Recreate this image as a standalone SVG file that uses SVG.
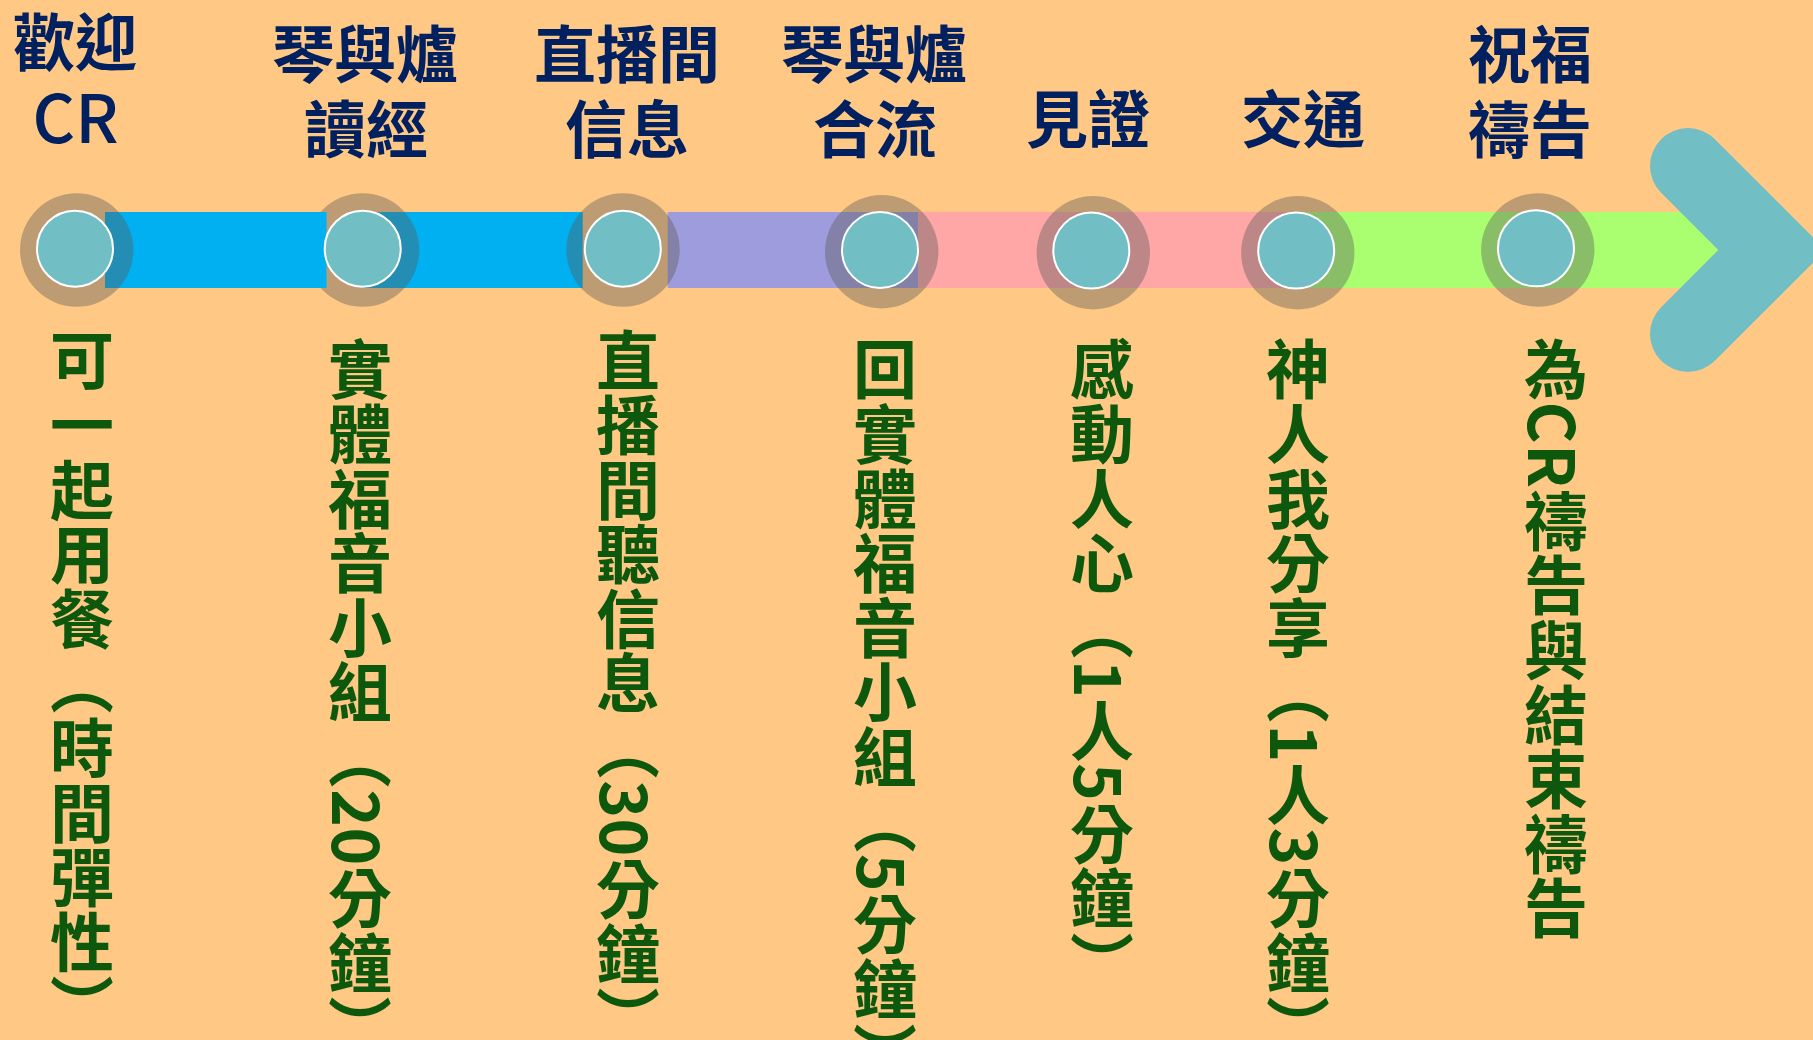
<svg xmlns="http://www.w3.org/2000/svg" width="1813" height="1040" viewBox="0 0 1813 1040">
<defs>
<style>
.ring{fill:#595959;fill-opacity:0.4}
.dot{fill:#72BEC5;stroke:#FFFFFF;stroke-width:2}
.top{font-family:"Noto Sans CJK TC","Noto Sans CJK SC",sans-serif;font-weight:700;font-size:62px;fill:#002060;text-anchor:middle}
.latin{font-weight:500;font-size:66px}
.vert{font-family:"Noto Sans CJK TC","Noto Sans CJK SC",sans-serif;font-weight:700;font-size:64px;letter-spacing:0.6px;fill:#0E580E;writing-mode:vertical-rl}
</style>
<mask id="m2" maskUnits="userSpaceOnUse" x="0" y="0" width="1813" height="1040">
<rect x="0" y="0" width="1813" height="1040" fill="#fff"/>
<rect x="0" y="212" width="326.7" height="76" fill="#000"/>
</mask>
</defs>
<rect x="0" y="0" width="1813" height="1040" fill="#FFC985"/>

<g id="connectors">
<rect x="105" y="212" width="221.7" height="76" fill="#00B0F0"/>
<rect x="362" y="212" width="220.7" height="76" fill="#00B0F0"/>
<rect x="667.7" y="212" width="250.6" height="76" fill="#9E9CDC"/>
<rect x="918.3" y="212" width="371" height="76" fill="#FFA6A6"/>
<rect x="1289.3" y="212" width="440" height="76" fill="#AAFF70"/>
<polyline points="1688,166 1772,250 1688,334" fill="none" stroke="#72BEC5" stroke-width="76" stroke-linecap="round" stroke-linejoin="miter"/>
</g>

<g id="node-1">
<circle class="ring" cx="76.7" cy="250" r="56.7"/>
<circle class="dot" cx="75" cy="248.7" r="38"/>
<text class="top" x="75" y="66">歡迎</text>
<text class="top latin" x="75.5" y="143">CR</text>
<text class="vert" x="82" y="328">可一起用餐（時間彈性）</text>
</g>

<g id="node-2">
<circle class="ring" cx="362.6" cy="250" r="56.7" mask="url(#m2)"/>
<circle class="dot" cx="362.7" cy="248.7" r="38"/>
<text class="top" x="365" y="78">琴與爐</text>
<text class="top" x="366" y="153">讀經</text>
<text class="vert" x="360" y="337">實體福音小組（20分鐘）</text>
</g>

<g id="node-3">
<circle class="ring" cx="623" cy="250" r="56.7"/>
<circle class="dot" cx="622.8" cy="248.7" r="38"/>
<text class="top" x="627" y="78">直播間</text>
<text class="top" x="627" y="153">信息</text>
<text class="vert" x="628" y="328">直播間聽信息（30分鐘）</text>
</g>

<g id="node-4">
<circle class="ring" cx="881.7" cy="251.7" r="56.7"/>
<circle class="dot" cx="880" cy="250" r="38"/>
<text class="top" x="874" y="78">琴與爐</text>
<text class="top" x="875" y="153">合流</text>
<text class="vert" x="885" y="337">回實體福音小組（5分鐘）</text>
</g>

<g id="node-5">
<circle class="ring" cx="1093.3" cy="252.7" r="56.7"/>
<circle class="dot" cx="1091.3" cy="250.5" r="38"/>
<text class="top" x="1088" y="143">見證</text>
<text class="vert" x="1102" y="337">感動人心（1人5分鐘）</text>
</g>

<g id="node-6">
<circle class="ring" cx="1297.8" cy="252.7" r="56.7"/>
<circle class="dot" cx="1296.2" cy="250.5" r="38"/>
<text class="top" x="1303" y="143">交通</text>
<text class="vert" x="1298" y="337">神人我分享（1人3分鐘）</text>
</g>

<g id="node-7">
<circle class="ring" cx="1537.8" cy="250" r="56.7"/>
<circle class="dot" cx="1536" cy="248.3" r="38"/>
<text class="top" x="1530" y="78">祝福</text>
<text class="top" x="1530" y="153">禱告</text>
<text class="vert" x="1556" y="337">為CR禱告與結束禱告</text>
</g>
</svg>
